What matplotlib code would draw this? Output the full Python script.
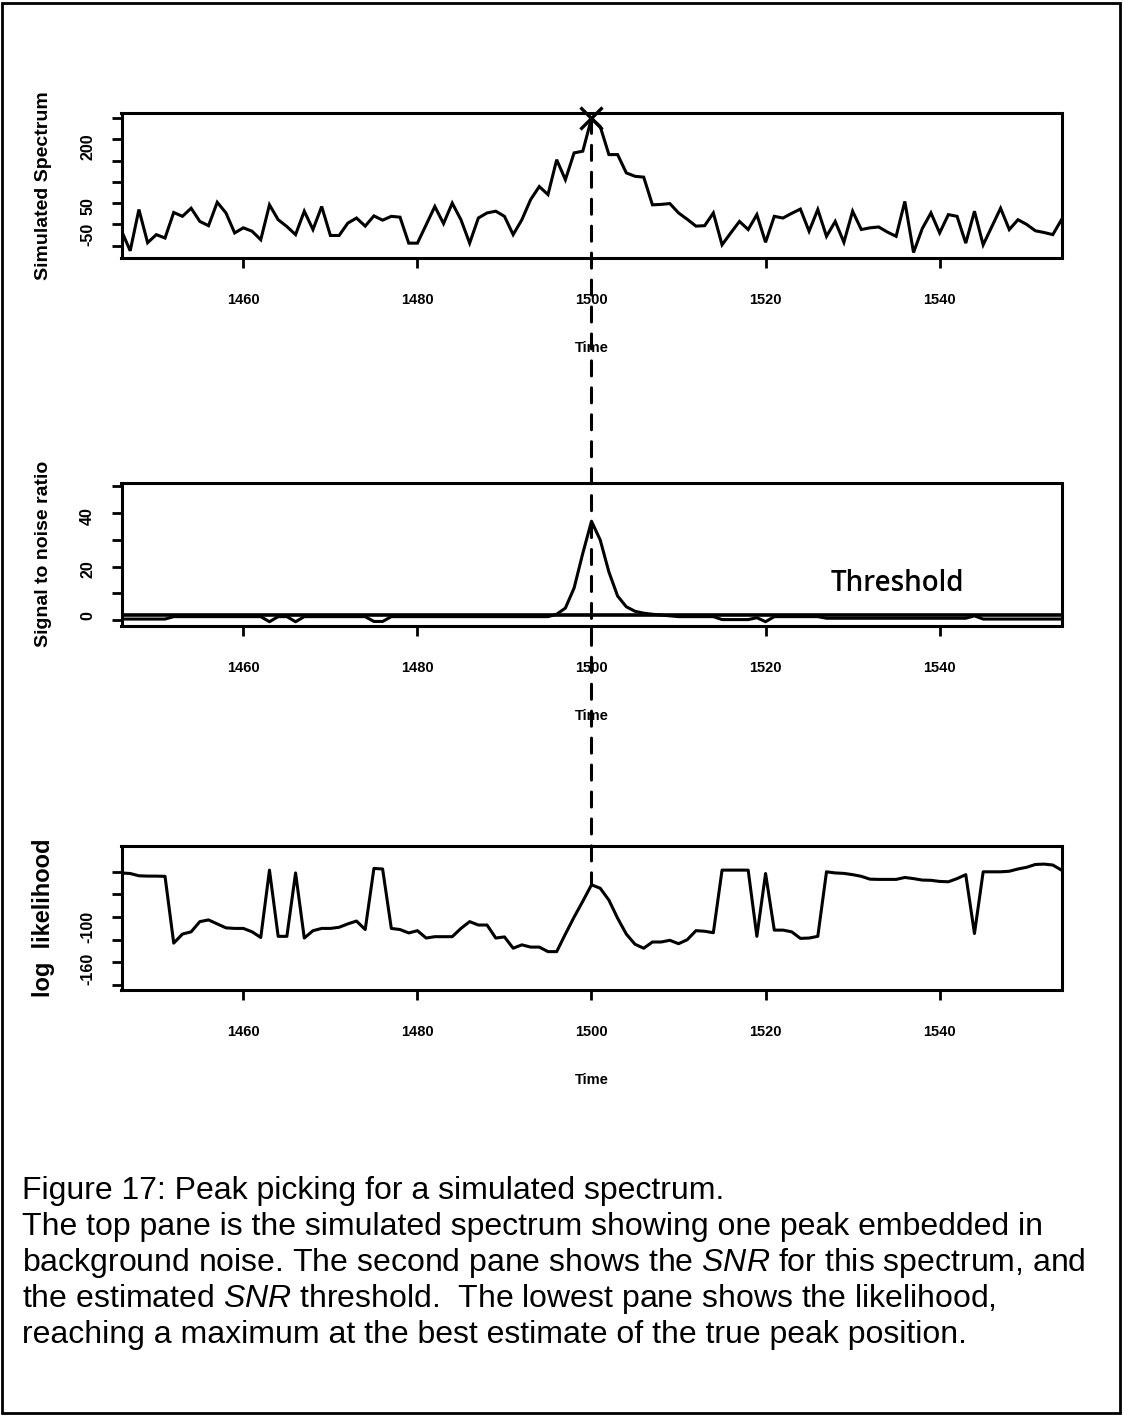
import matplotlib
matplotlib.use("Agg")
import matplotlib.pyplot as plt
from matplotlib.patches import ConnectionPatch, Rectangle
import numpy as np

plt.rcParams.update({
    "font.family": ["Liberation Sans", "DejaVu Sans"],
    "font.weight": "bold",
    "mathtext.fontset": "custom",
    "mathtext.rm": "Liberation Sans:weight=normal",
    "mathtext.it": "Liberation Sans:style=italic:weight=normal",
    "lines.scale_dashes": False,
})

# --- data: one sample per time step, 1446 .. 1554
time = np.arange(1446, 1555)

spectrum = [
    -15, -62, 35, -43, -24, -32, 28, 19, 38, 7,
    -3, 52, 27, -20, -8, -16, -36, 46, 11, -5,
    -24, 31, -12, 42, -26, -26, 3, 15, -4, 20,
    10, 19, 17, -44, -44, -1, 42, 2, 50, 11,
    -44, 15, 27, 31, 19, -24, 11, 58, 89, 70,
    152, 105, 168, 172, 249, 230, 164, 164, 121, 113,
    111, 46, 47, 49, 27, 12, -4, -3, 27, -48,
    -20, 7, -12, 23, -42, 19, 15, 26, 36, -16,
    35, -28, 7, -42, 31, -12, -8, -6, -18, -28,
    54, -66, -10, 27, -20, 23, 19, -44, 31, -48,
    -5, 38, -12, 11, 0, -15, -19, -24, 11,
]

snr = [
    0.4, 0.4, 0.4, 0.4, 0.4, 0.4, 1.3, 1.3, 1.3, 1.3,
    1.3, 1.3, 1.3, 1.3, 1.3, 1.3, 1.3, -0.6, 1.3, 1.3,
    -0.6, 1.3, 1.3, 1.3, 1.3, 1.3, 1.3, 1.3, 1.3, -0.5,
    -0.5, 1.3, 1.3, 1.3, 1.3, 1.3, 1.3, 1.3, 1.3, 1.3,
    1.3, 1.3, 1.3, 1.3, 1.3, 1.3, 1.3, 1.3, 1.3, 1.3,
    2.2, 4.5, 12, 25, 37, 30, 18, 9, 5, 3.3,
    2.6, 2.2, 1.9, 1.6, 1.3, 1.3, 1.3, 1.3, 1.3, 0.2,
    0.2, 0.2, 0.2, 0.9, -0.6, 1.3, 1.3, 1.3, 1.3, 1.3,
    1.3, 0.7, 0.7, 0.7, 0.7, 0.7, 0.7, 0.7, 0.7, 0.7,
    0.7, 0.7, 0.7, 0.7, 0.7, 0.7, 0.7, 0.7, 1.6, 0.4,
    0.4, 0.4, 0.4, 0.4, 0.4, 0.4, 0.4, 0.4, 0.4,
]

loglik = [
    -61, -61.5, -63.5, -63.8, -63.8, -64, -123, -115, -113, -104,
    -102.5, -106, -109.5, -110, -110, -113, -118, -58.5, -117, -117,
    -61, -118.5, -112, -110, -110, -109, -106, -103.5, -111, -57,
    -57.5, -110, -111, -114, -112, -118.5, -117.3, -117.3, -117.3, -110,
    -104, -107, -107, -118.5, -117.5, -127.5, -124.5, -126.5, -126.5, -130.5,
    -130.5, -115, -100, -86, -71.5, -74.5, -85, -101, -115, -124,
    -127.5, -122, -122, -120.5, -123.5, -120, -112, -112.5, -113.8, -58.5,
    -58.5, -58.5, -58.5, -117, -61.5, -111.5, -111.5, -113, -118.8, -118.5,
    -117, -60, -61, -61.4, -62.5, -64, -66.5, -66.7, -66.7, -66.7,
    -65, -66, -67.3, -67.5, -68.5, -68.8, -66, -62.5, -114.5, -60,
    -60, -60, -59.5, -57.5, -56, -53.5, -53.2, -54, -58.5,
]

threshold = 1.9
peak_time = 1500

x_ticks = [1460, 1480, 1500, 1520, 1540]

W, H = 1123, 1416
fig = plt.figure(figsize=(W / 100, H / 100), dpi=100)


def panel_axes(top_px, bottom_px):
    left, right = 121.5, 1061.5
    return fig.add_axes([left / W, 1 - bottom_px / H,
                         (right - left) / W, (bottom_px - top_px) / H])


ax_top = panel_axes(113, 258)
ax_mid = panel_axes(482.7, 626)
ax_bot = panel_axes(846, 990)

LW = 2.2
i_peak = list(time).index(peak_time)

ax_top.plot(time, spectrum, color="black", lw=LW, solid_joinstyle="miter")
ax_top.plot(peak_time, spectrum[i_peak], marker="x",
            ms=16, mew=2.4, color="black", clip_on=False, zorder=5)

ax_mid.plot(time, snr, color="black", lw=LW)
ax_mid.axhline(threshold, color="black", lw=2.6)
ax_mid.text(1535.1, 10.9, "Threshold", ha="center", va="baseline",
            fontsize=20, family=["Open Sans", "DejaVu Sans"], weight="semibold")

ax_bot.plot(time, loglik, color="black", lw=LW)

axis_specs = [
    (ax_top, (-78.9, 261.7), [-50, 0, 50, 100, 150, 200, 250],
     ["-50", "", "50", "", "", "200", ""], "Simulated Spectrum", 14, -0.0739),
    (ax_mid, (-2.2, 51.4), [0, 10, 20, 30, 40, 50],
     ["0", "", "20", "", "40", ""], "Signal to noise ratio", 14, -0.0739),
    (ax_bot, (-164.4, -37.2), [-160, -140, -120, -100, -80, -60],
     ["-160", "", "", "-100", "", ""], "log  likelihood", 17, -0.0707),
]

for ax, ylim, yt, ylab, ylabel, ysize, ylab_x in axis_specs:
    ax.set_xlim(1446, 1554)
    ax.set_ylim(*ylim)
    ax.set_xticks(x_ticks)
    ax.set_xticklabels([str(t) for t in x_ticks], fontsize=10.5, weight="bold")
    ax.set_yticks(yt)
    ax.set_yticklabels(ylab, fontsize=11.5, weight="bold")
    ax.tick_params(axis="both", direction="out", length=7, width=2, color="black")
    ax.tick_params(axis="x", pad=18)
    ax.tick_params(axis="y", pad=12, labelrotation=90)
    # the lowest label sits just above its tick
    ax.get_yticklabels()[0].set_va("bottom")
    for sp in ax.spines.values():
        sp.set_linewidth(LW)
    ax.set_xlabel("Time", fontsize=10.5, weight="bold", labelpad=25)
    ax.set_ylabel(ylabel, fontsize=ysize, weight="bold")
    ax.yaxis.set_label_coords(ylab_x, 0.5)

# dashed marker joining the peak across all three panes
link = ConnectionPatch(
    xyA=(peak_time, spectrum[i_peak]), coordsA=ax_top.transData,
    xyB=(peak_time, loglik[i_peak]), coordsB=ax_bot.transData,
    color="black", lw=LW, linestyle=(0, (10.8, 8.6)), shrinkA=0, shrinkB=0,
    zorder=10,
)
fig.add_artist(link)

caption = [
    "Figure 17: Peak picking for a simulated spectrum.",
    "The top pane is the simulated spectrum showing one peak embedded in",
    r"background noise. The second pane shows the $\mathit{SNR}$ for this spectrum, and",
    r"the estimated $\mathit{SNR}$ threshold.  The lowest pane shows the likelihood,",
    "reaching a maximum at the best estimate of the true peak position.",
]
for i, line in enumerate(caption):
    fig.text(22 / W, 1 - (1199 + 36 * i) / H, line, ha="left", va="baseline",
             fontsize=23, weight="normal")

fig.add_artist(Rectangle((2 / W, 3 / H), 1118 / W, 1410 / H, transform=fig.transFigure,
                         fill=False, lw=2, color="black"))

fig.savefig("out.png", dpi=100)
